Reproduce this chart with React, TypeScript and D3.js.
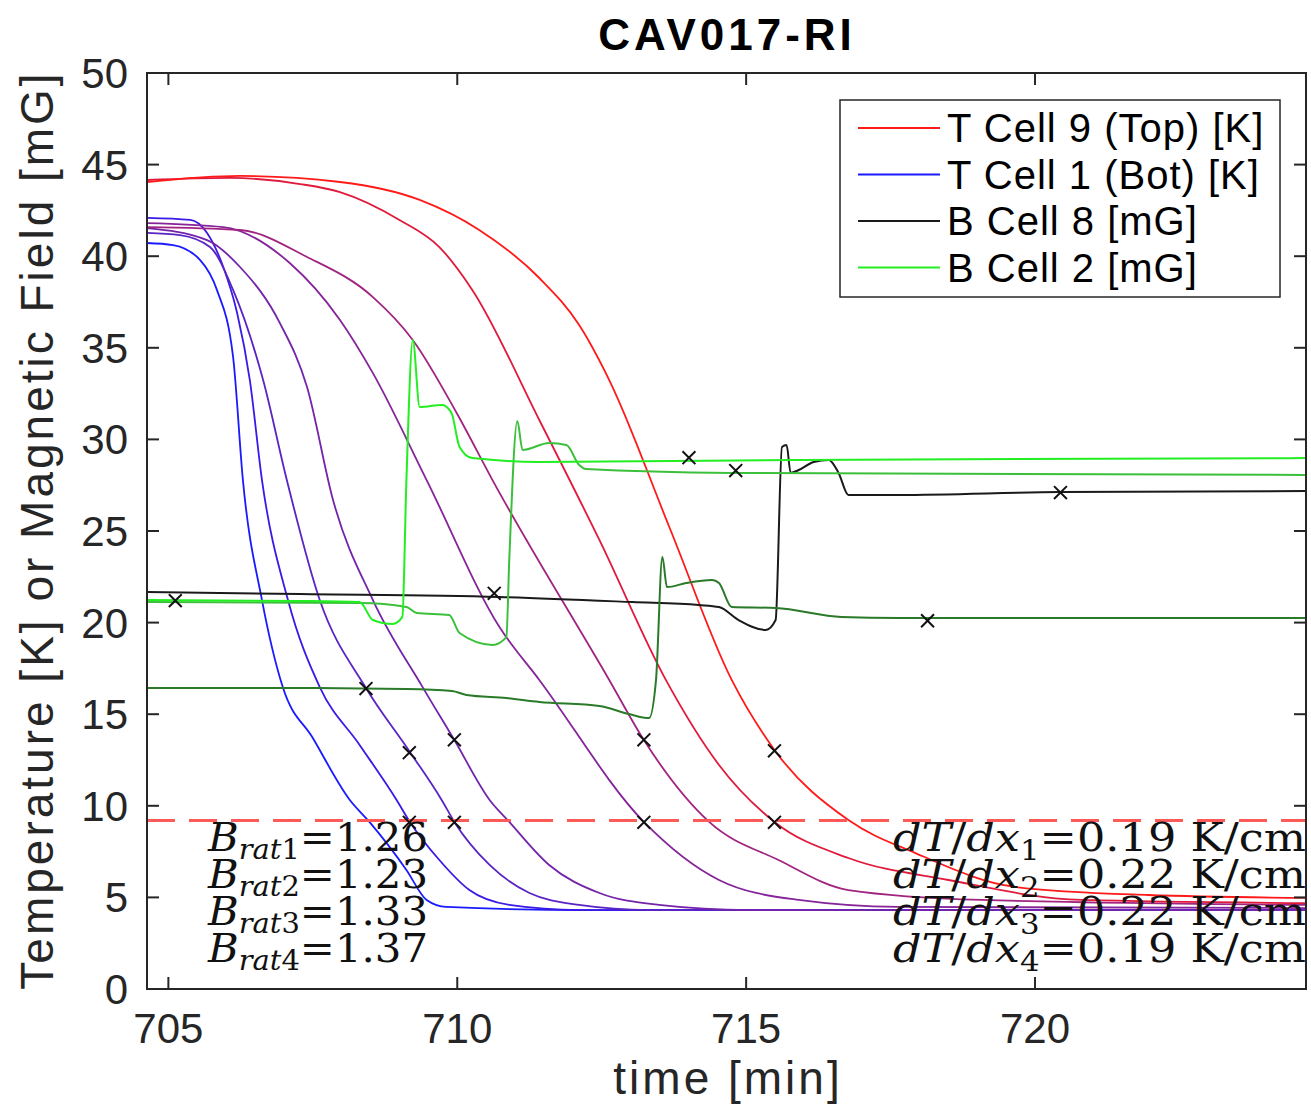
import React from "react";
import * as d3 from "d3";

// axis ticks
const timeTicks = [705, 710, 715, 720];
const valueTicks = [0, 5, 10, 15, 20, 25, 30, 35, 40, 45, 50];

// temperature curves [time min, T K], bottom cell (blue) to top cell (red)
const tCellA = [[704.63,40.72],[705.08,40.61],[705.55,39.79],[705.84,38.16],[706.12,34.5],[706.29,27.78],[706.62,21.23],[706.98,16.48],[707.5,13.7],[708.14,10.32],[708.48,9.12],[709.12,6.5],[709.47,4.86],[709.81,4.48],[712.28,4.31],[724.69,4.31]];
const tCellB = [[704.63,42.09],[705.38,41.98],[705.67,41.27],[705.95,39.41],[706.19,36.9],[706.41,33.24],[706.62,27.78],[707.07,21.23],[707.62,16.48],[708.31,13.32],[708.95,10.32],[709.18,9.12],[709.69,7.04],[710.21,5.4],[710.9,4.59],[712.11,4.31],[724.69,4.31]];
const tCellC = [[704.63,41.27],[705.2,41.15],[705.72,40.5],[706.12,38.16],[706.64,33.24],[707.05,27.78],[707.62,21.23],[708.42,16.43],[709.18,12.94],[709.73,10.32],[709.95,9.12],[710.56,6.77],[711.25,5.24],[712.11,4.59],[713.32,4.31],[724.69,4.31]];
const tCellD = [[704.63,41.53],[705.67,40.88],[706.24,39.41],[706.93,36.35],[707.4,32.86],[707.85,26.69],[708.54,21.23],[709.4,16.48],[709.95,13.59],[710.56,10.32],[710.9,9.12],[711.59,6.77],[712.46,5.24],[713.49,4.59],[715.05,4.31],[724.69,4.31]];
const tCellE = [[704.63,41.81],[705.95,41.59],[707.1,39.63],[707.97,36.52],[708.54,33.62],[709.47,27.78],[710.73,19.76],[711.42,16.87],[713.23,9.12],[714.53,5.95],[715.91,4.86],[717.64,4.48],[724.69,4.42]];
const tCellF = [[704.63,41.59],[706.24,41.43],[707.4,39.96],[708.54,37.77],[709.23,35.43],[709.99,31.44],[710.61,27.78],[712.63,16.87],[713.23,13.59],[714.36,9.12],[715.56,7.04],[716.77,5.4],[719.07,4.86],[724.69,4.59]];
const tCellG = [[704.63,44.16],[706.07,44.27],[707.28,43.94],[707.97,43.5],[709.0,41.98],[709.69,40.5],[710.26,38.16],[711.42,31.06],[712.46,24.51],[713.61,16.87],[714.53,12.23],[715.49,9.12],[716.77,7.15],[718.5,5.95],[720.8,4.86],[724.69,4.69]];
const tCellH = [[704.63,44.05],[706.24,44.38],[707.97,44.05],[709.35,43.07],[710.38,41.43],[711.42,38.81],[712.11,36.24],[712.63,33.24],[713.67,25.22],[714.75,16.87],[715.49,13.05],[716.77,9.22],[717.93,7.42],[719.66,5.57],[721.96,5.13],[724.69,4.97]];
const tempSeries = [tCellA, tCellB, tCellC, tCellD, tCellE, tCellF, tCellG, tCellH];
const tempColors = ["#1a1aff", "#3a1ae6", "#5a24c4", "#7424aa", "#86249a", "#a02480", "#e01a3c", "#ff1a1a"];

// magnetic field curves [time min, B mG]
const bCell8 = [[704.63,21.67],[707.28,21.56],[710.73,21.4],[713.03,21.12],[714.18,20.96],[714.53,20.85],[714.87,20.14],[715.34,19.6],[715.51,20.14],[715.62,29.59],[715.7,29.69],[715.77,28.17],[715.91,28.33],[716.17,28.77],[716.43,28.88],[716.6,28.17],[716.77,26.97],[717.64,26.97],[720.44,27.13],[724.69,27.18]];
const bCell6 = [[704.63,16.43],[707.28,16.43],[709.12,16.38],[709.91,16.27],[710.16,16.05],[710.85,15.88],[711.42,15.67],[712.46,15.45],[712.97,15.01],[713.32,14.79],[713.44,16.87],[713.55,23.58],[713.63,21.94],[713.96,22.16],[714.41,22.33],[714.53,22.16],[714.75,20.85],[715.51,20.8],[716.65,20.31],[717.64,20.25],[724.69,20.25]];
const bCell4 = [[704.63,21.12],[708.31,21.07],[709.12,20.85],[709.3,20.52],[709.86,20.41],[710.04,19.43],[710.61,18.78],[710.85,19.21],[710.9,23.42],[711.04,31.0],[711.13,29.42],[711.59,29.8],[711.89,29.69],[712.11,28.6],[712.23,28.38],[714.75,28.17],[724.69,28.06]];
const bCell2 = [[704.63,21.23],[707.28,21.18],[708.31,21.12],[708.54,20.14],[708.88,19.92],[709.05,20.31],[709.12,27.78],[709.23,35.43],[709.35,31.77],[709.74,31.88],[709.9,31.44],[710.04,29.59],[710.26,28.98],[711.42,28.77],[715.91,28.88],[724.69,28.98]];
const fieldSeries = [bCell8, bCell6, bCell4, bCell2];
const fieldColors = ["#1a1a1a", "#2a7a2a", "#3cc03c", "#22ee22"];

// x markers
const markTimes = [705.12, 710.64, 708.42, 709.17, 709.95, 709.17, 709.95, 713.23, 713.23, 715.49, 715.49, 714.01, 714.82, 720.44, 718.14];
const markValues = [21.2, 21.6, 16.4, 12.9, 13.6, 9.1, 9.1, 13.6, 9.1, 13.0, 9.1, 29.0, 28.3, 27.1, 20.1];

const tcThreshold = 9.2;
const bRatios = ["1.26", "1.23", "1.33", "1.37"];
const gradients = ["0.19", "0.22", "0.22", "0.19"];

const legendLabels = ["T Cell 9 (Top) [K]", "T Cell 1 (Bot) [K]", "B Cell 8 [mG]", "B Cell 2 [mG]"];
const legendColors = ["#ff1a1a", "#1a1aff", "#1a1a1a", "#22ee22"];

const W = 1311;
const H = 1112;
const left = 147, right = 1306, top = 73, bottom = 989;
const axisColor = "#262626";
const sans = "'Liberation Sans', Arial, sans-serif";
const serif = "'DejaVu Serif', 'Liberation Serif', serif";

export default function App() {
  const x = d3.scaleLinear().domain([704.63, 724.69]).range([left, right]);
  const y = d3.scaleLinear().domain([0, 50]).range([bottom, top]);
  const line = d3
    .line<number[]>()
    .x((d) => x(d[0]))
    .y((d) => y(d[1]))
    .curve(d3.curveMonotoneX);
  const cross = d3.symbol().type(d3.symbolX).size(110)();
  const tick = 12;

  return (
    <div style={{ position: "absolute", left: 0, top: 0 }}>
      <svg width={W} height={H} style={{ display: "block", background: "#fff" }}>
        <defs>
          <clipPath id="plot">
            <rect x={left} y={top} width={right - left} height={bottom - top} />
          </clipPath>
        </defs>

        <text x={727} y={50} textAnchor="middle" fontFamily={sans} fontWeight="bold" fontSize={44} letterSpacing={4} fill="#000">
          CAV017-RI
        </text>

        <g clipPath="url(#plot)" fill="none" strokeLinejoin="round">
          {tempSeries.map((s, i) => (
            <path key={"t" + i} d={line(s) || ""} stroke={tempColors[i]} strokeWidth={1.8} />
          ))}
          {fieldSeries.map((s, i) => (
            <path key={"b" + i} d={line(s) || ""} stroke={fieldColors[i]} strokeWidth={2} />
          ))}
          <line x1={left} x2={right} y1={y(tcThreshold)} y2={y(tcThreshold)} stroke="#ff5a5a" strokeWidth={3} strokeDasharray="28 14" />
          {markTimes.map((t, i) => (
            <path key={"m" + i} d={cross || ""} transform={`translate(${x(t)},${y(markValues[i])})`} stroke="#111" strokeWidth={2} />
          ))}
        </g>

        {/* annotations */}
        {bRatios.map((v, i) => (
          <text key={"br" + i} x={208} y={851 + i * 37} fontFamily={serif} fontSize={39} fill="#111" textLength={220} lengthAdjust="spacingAndGlyphs">
            <tspan fontStyle="italic">B</tspan>
            <tspan fontStyle="italic" fontSize={27} dy={8}>rat</tspan>
            <tspan fontSize={27}>{i + 1}</tspan>
            <tspan dy={-8}>={v}</tspan>
          </text>
        ))}
        {gradients.map((v, i) => (
          <text key={"gr" + i} x={893} y={851 + i * 37} fontFamily={serif} fontSize={39} fill="#111" textLength={413} lengthAdjust="spacingAndGlyphs">
            <tspan fontStyle="italic">dT</tspan>
            <tspan>/</tspan>
            <tspan fontStyle="italic">dx</tspan>
            <tspan fontSize={27} dy={9}>{i + 1}</tspan>
            <tspan dy={-9}>={v} K/cm</tspan>
          </text>
        ))}

        {/* axes box and ticks */}
        <rect x={left} y={top} width={right - left} height={bottom - top} fill="none" stroke={axisColor} strokeWidth={2} />
        {timeTicks.map((t) => (
          <g key={"xt" + t}>
            <line x1={x(t)} x2={x(t)} y1={bottom} y2={bottom - tick} stroke={axisColor} strokeWidth={2} />
            <line x1={x(t)} x2={x(t)} y1={top} y2={top + tick} stroke={axisColor} strokeWidth={2} />
            <text x={x(t)} y={1043} textAnchor="middle" fontFamily={sans} fontSize={42} fill={axisColor}>
              {t}
            </text>
          </g>
        ))}
        {valueTicks.map((v) => (
          <g key={"yt" + v}>
            <line x1={left} x2={left + tick} y1={y(v)} y2={y(v)} stroke={axisColor} strokeWidth={2} />
            <line x1={right} x2={right - tick} y1={y(v)} y2={y(v)} stroke={axisColor} strokeWidth={2} />
            <text x={128} y={y(v) + 15} textAnchor="end" fontFamily={sans} fontSize={42} fill={axisColor}>
              {v}
            </text>
          </g>
        ))}

        <text x={728} y={1094} textAnchor="middle" fontFamily={sans} fontSize={46} letterSpacing={3} fill={axisColor}>
          time [min]
        </text>
        <text transform="translate(53,530) rotate(-90)" textAnchor="middle" fontFamily={sans} fontSize={46} letterSpacing={3} fill={axisColor}>
          Temperature [K] or Magnetic Field [mG]
        </text>

        {/* legend */}
        <rect x={840} y={100} width={440} height={197} fill="#fff" stroke={axisColor} strokeWidth={1.5} />
        {legendLabels.map((l, i) => (
          <g key={"lg" + i}>
            <line x1={858} x2={940} y1={128 + i * 46.5} y2={128 + i * 46.5} stroke={legendColors[i]} strokeWidth={2} />
            <text x={947} y={128 + i * 46.5 + 14} fontFamily={sans} fontSize={40} letterSpacing={1} fill="#000">
              {l}
            </text>
          </g>
        ))}
      </svg>
    </div>
  );
}
